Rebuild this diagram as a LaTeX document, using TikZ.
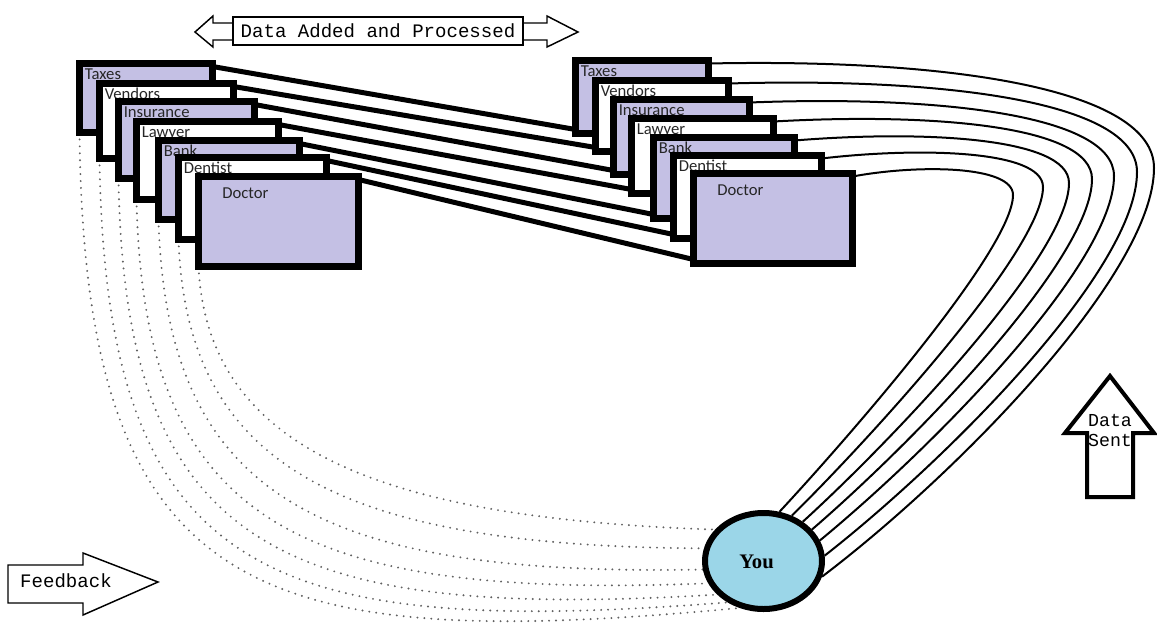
\documentclass[tikz,border=0pt]{standalone}
\usepackage{fontspec}
\setmainfont{Liberation Serif}
\newfontfamily\lblfont{Carlito}
\newfontfamily\monofont{Liberation Mono}
\usetikzlibrary{calc,shapes.geometric}
\pgfdeclarelayer{bg}
\pgfsetlayers{bg,main}
\definecolor{lav}{RGB}{196,192,228}
\definecolor{youblue}{RGB}{155,214,232}
\begin{document}
\begin{tikzpicture}[x=0.75pt,y=-0.75pt,
  stackbox/.style={draw=black, line width=5.25pt, inner sep=0pt, outer sep=0pt},
  lavbox/.style={stackbox, fill=lav},
  whitebox/.style={stackbox, fill=white},
  sz/.style 2 args={minimum width=#1*0.75pt, minimum height=#2*0.75pt},
  lbl/.style={anchor=base west, inner sep=0pt, font=\lblfont\fontsize{12.5}{14}\selectfont, text=black!85},
  thicklink/.style={line width=3.75pt},
  thinlink/.style={line width=1.5pt},
  dotlink/.style={line width=1.6pt, black!62, line cap=round, dash pattern=on 0pt off 5.2pt},
  mono/.style={font=\monofont\fontsize{14.3}{15}\selectfont, inner sep=0pt},
  arrowshape/.style={draw=black, fill=white, line width=1.1pt, line join=miter},
]
\useasboundingbox (0,0) rectangle (1157,629);

% ---------- left stack ----------
\node[lavbox, sz={133}{69}] (LT) at (146,98) {};
\node[lbl] (tLT) at ($(LT.north west)+(5,15.5)$) {Taxes};
\node[whitebox, sz={134}{75}] (LV) at (166.5,121) {};
\node[lbl] (tLV) at ($(LV.north west)+(5,15.5)$) {Vendors};
\node[lavbox, sz={136}{77}] (LI) at (186.5,140) {};
\node[lbl] (tLI) at ($(LI.north west)+(5,15.5)$) {Insurance};
\node[whitebox, sz={142}{78}] (LL) at (207.5,160.5) {};
\node[lbl] (tLL) at ($(LL.north west)+(5,15.5)$) {Lawyer};
\node[lavbox, sz={141}{79}] (LB) at (229,180) {};
\node[lbl] (tLB) at ($(LB.north west)+(5,15.5)$) {Bank};
\node[whitebox, sz={148}{82}] (LD) at (252.5,198.5) {};
\node[lbl] (tLD) at ($(LD.north west)+(5,15.5)$) {Dentist};
\node[lavbox, sz={160}{90}] (LDr) at (278.5,221.5) {};
\node[lbl] (tLDr) at ($(LDr.north west)+(23.5,21.5)$) {Doctor};

% ---------- right stack ----------
\node[lavbox, sz={133}{73}] (RT) at (642,97) {};
\node[lbl] (tRT) at ($(RT.north west)+(5,15.5)$) {Taxes};
\node[whitebox, sz={133}{71}] (RV) at (662,116) {};
\node[lbl] (tRV) at ($(RV.north west)+(5,15.5)$) {Vendors};
\node[lavbox, sz={136}{75}] (RI) at (681.5,137) {};
\node[lbl] (tRI) at ($(RI.north west)+(5,15.5)$) {Insurance};
\node[whitebox, sz={142}{75}] (RL) at (702.5,156) {};
\node[lbl] (tRL) at ($(RL.north west)+(5,15.5)$) {Lawyer};
\node[lavbox, sz={141}{81}] (RB) at (724,178) {};
\node[lbl] (tRB) at ($(RB.north west)+(5,15.5)$) {Bank};
\node[whitebox, sz={148}{83}] (RD) at (747.5,197) {};
\node[lbl] (tRD) at ($(RD.north west)+(5,15.5)$) {Dentist};
\node[lavbox, sz={159}{90}] (RDr) at (773,218.5) {};
\node[lbl] (tRDr) at ($(RDr.north west)+(23.5,21.5)$) {Doctor};

% ---------- You ----------
\node[draw=black, ellipse, fill=youblue, line width=4.5pt, inner sep=0pt,
      minimum width=117*0.75pt, minimum height=96*0.75pt] (you) at (763.5,561) {};
\node[font=\bfseries\fontsize{15.5}{18}\selectfont, inner sep=0pt] (youlbl) at (756.5,561.5) {You};

% apex coordinates of the right-hand curves
\coordinate (a1) at (1154,168);
\coordinate (a2) at (1137,172);
\coordinate (a3) at (1114,176);
\coordinate (a4) at (1092,179);
\coordinate (a5) at (1069,183);
\coordinate (a6) at (1043,187);
\coordinate (a7) at (1013,195);

\begin{pgfonlayer}{bg}
% thick links between stacks
\draw[thicklink] ($(LT.north east)+(0,3)$) -- ($(RT.south west)+(0,-4)$);
\draw[thicklink] ($(LV.north east)+(0,3)$) -- ($(RV.south west)+(0,-4)$);
\draw[thicklink] ($(LI.north east)+(0,3)$) -- ($(RI.south west)+(0,-4)$);
\draw[thicklink] ($(LL.north east)+(0,3)$) -- ($(RL.south west)+(0,-4)$);
\draw[thicklink] ($(LB.north east)+(0,3)$) -- ($(RB.south west)+(0,-4)$);
\draw[thicklink] ($(LD.north east)+(0,3)$) -- ($(RD.south west)+(0,-4)$);
\draw[thicklink] ($(LDr.north east)+(0,3)$) -- ($(RDr.south west)+(0,-4)$);

% thin curves: right stack -> You
\draw[thinlink] ($(RT.north east)+(0,3)$) .. controls +(238,-5) and +(0,-80) .. (a1)
  .. controls +(0,105) and +(137,-104) .. (you.-15);
\draw[thinlink] ($(RV.north east)+(0,3)$) .. controls +(209,-6) and +(0,-72) .. (a2)
  .. controls +(0,97) and +(125,-98) .. (you.5);
\draw[thinlink] ($(RI.north east)+(0,3)$) .. controls +(180,-7) and +(0,-63) .. (a3)
  .. controls +(0,88) and +(113,-93) .. (you.20);
\draw[thinlink] ($(RL.north east)+(0,3)$) .. controls +(151,-8.5) and +(0,-55) .. (a4)
  .. controls +(0,80) and +(101,-87) .. (you.33);
\draw[thinlink] ($(RB.north east)+(0,3)$) .. controls +(122,-10) and +(0,-47) .. (a5)
  .. controls +(0,72) and +(89,-81) .. (you.45);
\draw[thinlink] ($(RD.north east)+(0,3)$) .. controls +(93,-11) and +(0,-38) .. (a6)
  .. controls +(0,63) and +(77,-76) .. (you.58);
\draw[thinlink] ($(RDr.north east)+(0,3)$) .. controls +(64,-12) and +(0,-30) .. (a7)
  .. controls +(0,55) and +(65,-70) .. (you.72);

% dotted feedback curves: left stack -> You
\draw[dotlink] (LT.south west) .. controls +(5,467) and +(-485,46) .. (you.243);
\draw[dotlink] (LV.south west) .. controls +(6,420) and +(-460,36) .. (you.229);
\draw[dotlink] (LI.south west) .. controls +(6,373) and +(-434,26) .. (you.216);
\draw[dotlink] (LL.south west) .. controls +(7,326) and +(-409,16) .. (you.202);
\draw[dotlink] (LB.south west) .. controls +(8,278) and +(-383,7) .. (you.188);
\draw[dotlink] (LD.south west) .. controls +(8,231) and +(-358,-2) .. (you.168);
\draw[dotlink] (LDr.south west) .. controls +(9,184) and +(-332,-11) .. (you.147);
\end{pgfonlayer}

% ---------- Data Added and Processed ----------
\draw[arrowshape] (233,23) -- (213,23) -- (213,16) -- (195,32) -- (213,47) -- (213,40) -- (233,40);
\draw[arrowshape] (523,23) -- (547,23) -- (547,16) -- (578,32) -- (547,47) -- (547,40) -- (523,40);
\node[draw=black, fill=white, line width=1.1pt, inner sep=0pt,
      minimum width=290*0.75pt, minimum height=28*0.75pt, mono] (dap) at (378,31) {Data Added and Processed};

% ---------- Data Sent ----------
\draw[draw=black, fill=white, line width=3pt, line join=miter]
  (1110,376) -- (1154,433) -- (1133,433) -- (1133,497) -- (1087,497) -- (1087,433) -- (1065,433) -- cycle;
\node[mono, align=center, font=\monofont\fontsize{13.7}{15}\selectfont] (sent) at (1110,430) {Data\\Sent};

% ---------- Feedback ----------
\draw[arrowshape] (8,565) -- (83,565) -- (83,553) -- (158,582) -- (83,615) -- (83,603) -- (8,603) -- cycle;
\node[mono] (fb) at (66,581) {Feedback};
\end{tikzpicture}
\end{document}
